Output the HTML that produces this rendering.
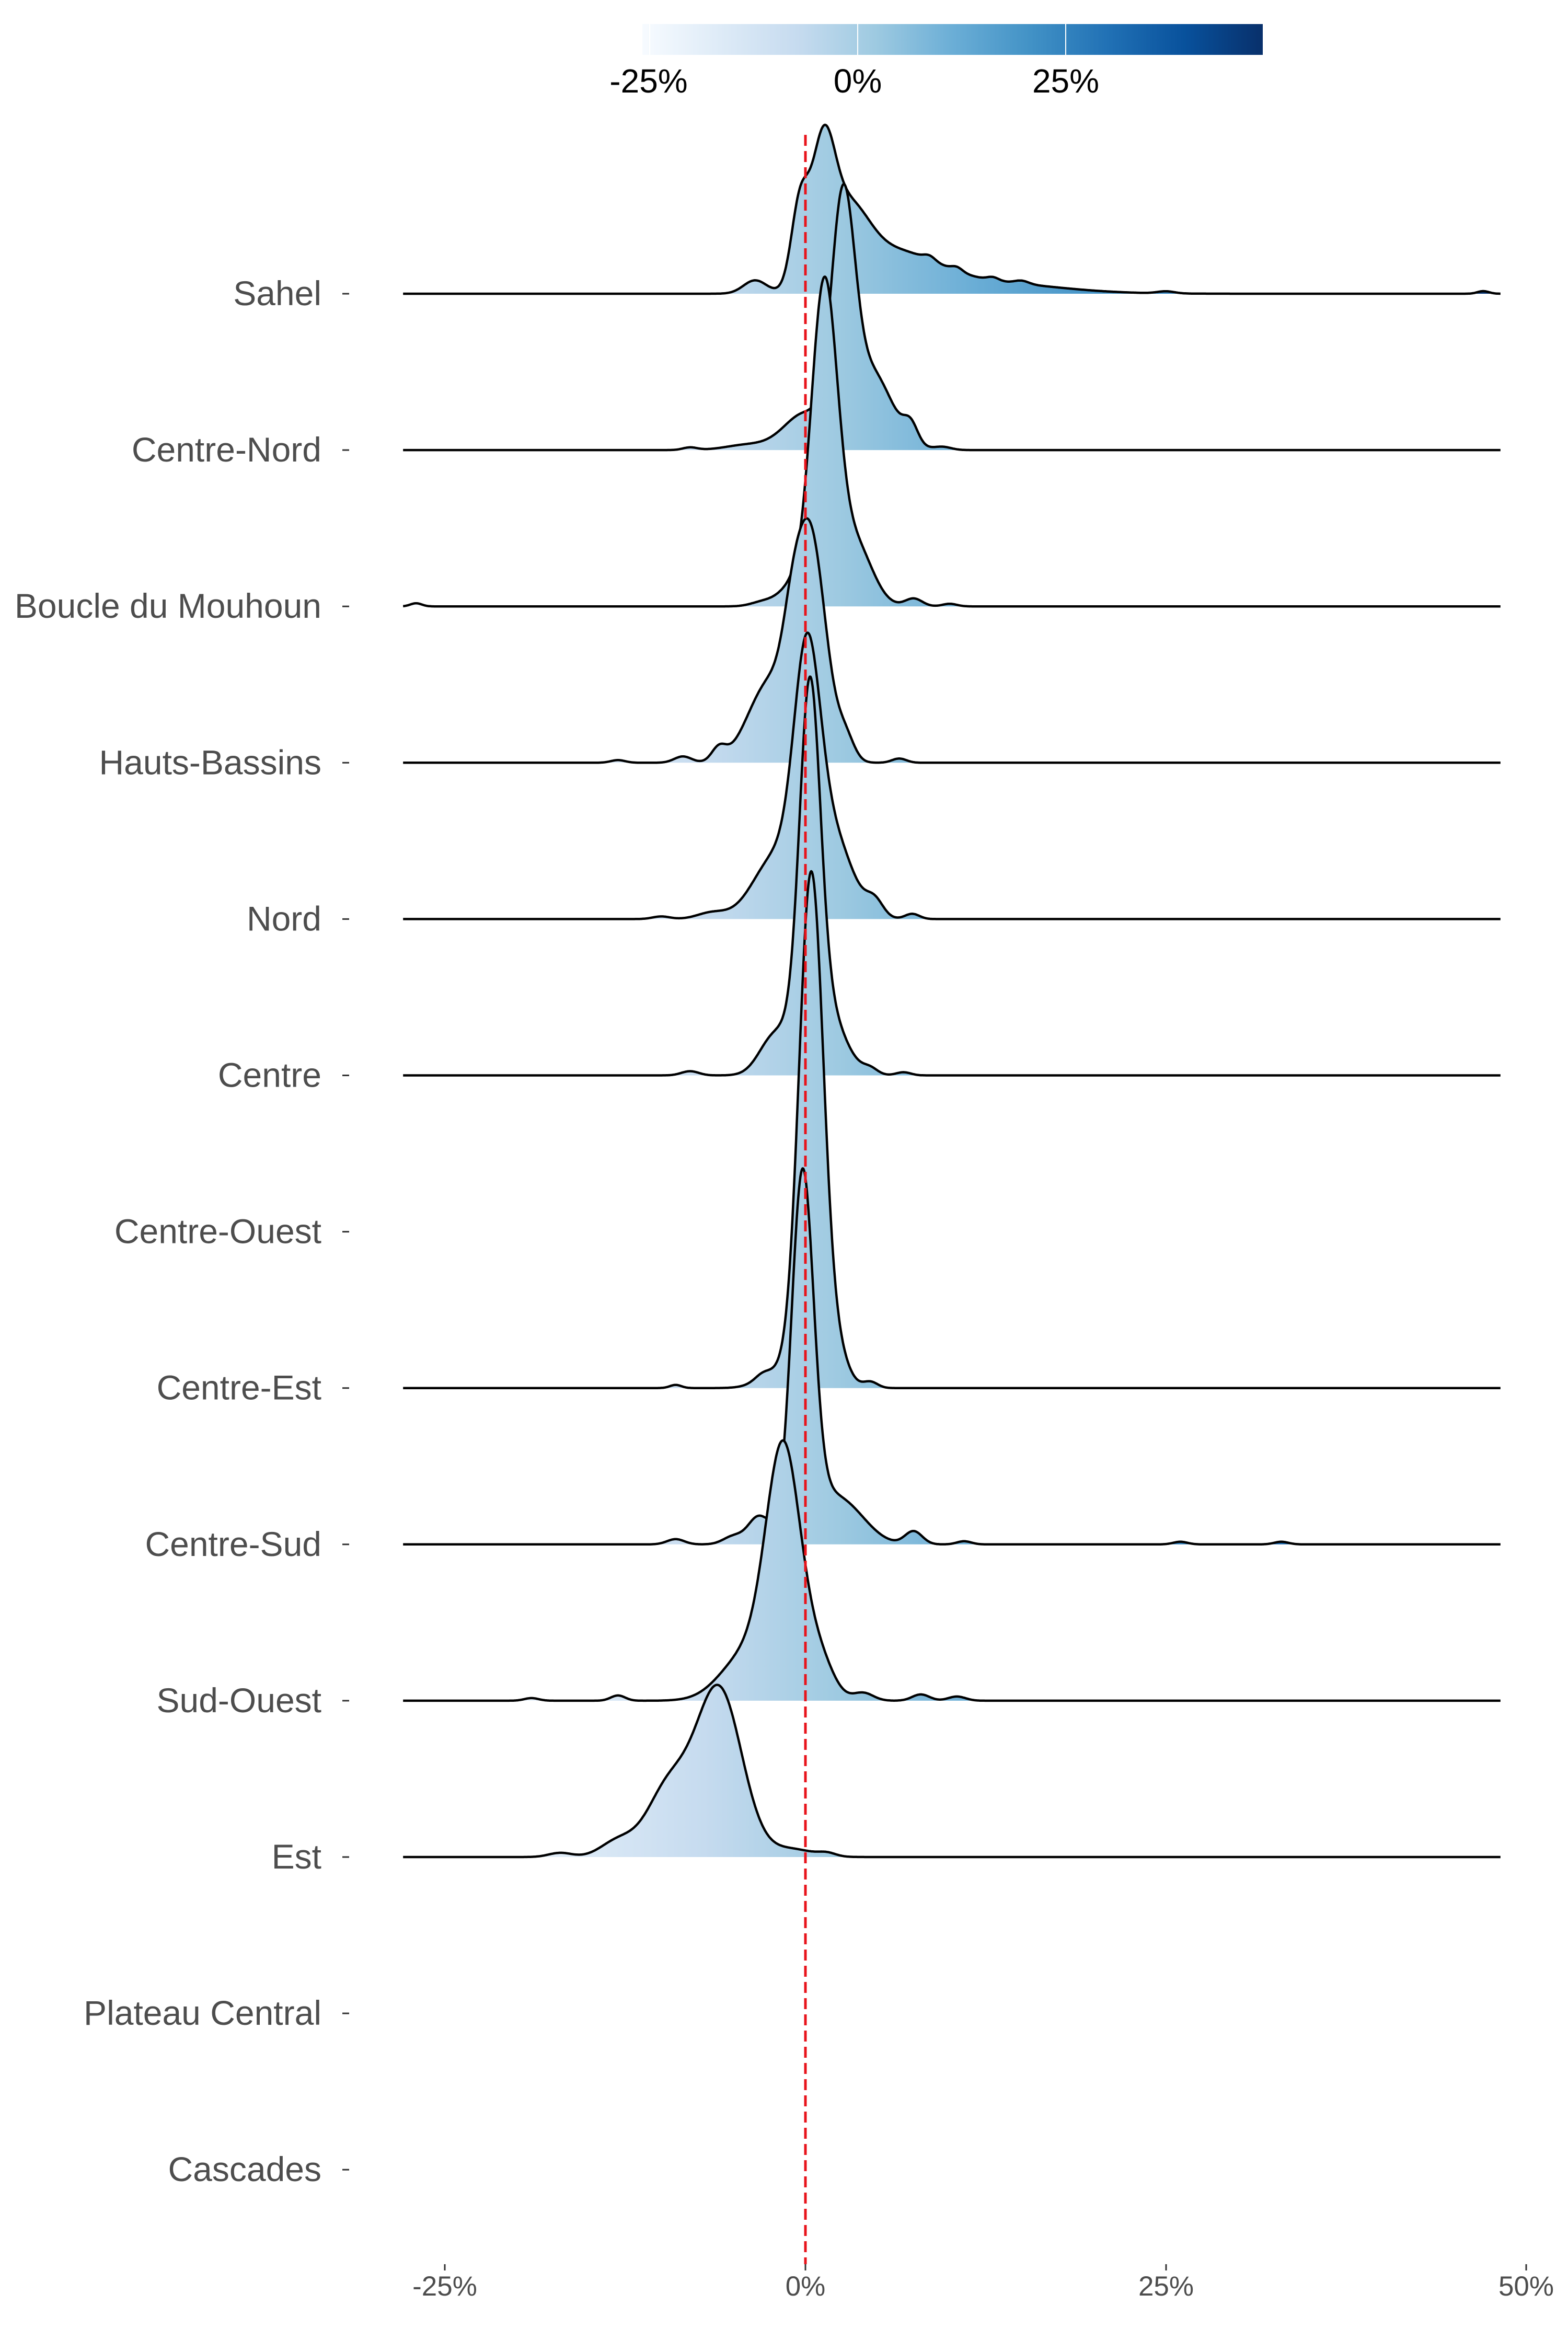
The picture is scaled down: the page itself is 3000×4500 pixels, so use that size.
<!DOCTYPE html>
<html><head><meta charset="utf-8"><style>
html,body{margin:0;padding:0;background:#fff}
svg{display:block}
text{font-family:"Liberation Sans",Arial,sans-serif}
</style></head><body>
<svg id="s" width="3000" height="4500" viewBox="0 0 3000 4500" xmlns="http://www.w3.org/2000/svg">
<defs>
<linearGradient id="g" gradientUnits="userSpaceOnUse" x1="834" y1="0" x2="2885" y2="0">
<stop offset="0" stop-color="#f7fbff"/><stop offset="0.125" stop-color="#deebf7"/><stop offset="0.25" stop-color="#c6dbef"/><stop offset="0.375" stop-color="#9ecae1"/><stop offset="0.5" stop-color="#6baed6"/><stop offset="0.625" stop-color="#4292c6"/><stop offset="0.75" stop-color="#2171b5"/><stop offset="0.875" stop-color="#08519c"/><stop offset="1" stop-color="#08306b"/>
</linearGradient>
<linearGradient id="cb" x1="0" y1="0" x2="1" y2="0">
<stop offset="0" stop-color="#f7fbff"/><stop offset="0.125" stop-color="#deebf7"/><stop offset="0.25" stop-color="#c6dbef"/><stop offset="0.375" stop-color="#9ecae1"/><stop offset="0.5" stop-color="#6baed6"/><stop offset="0.625" stop-color="#4292c6"/><stop offset="0.75" stop-color="#2171b5"/><stop offset="0.875" stop-color="#08519c"/><stop offset="1" stop-color="#08306b"/>
</linearGradient>
</defs>
<rect x="1229" y="46" width="1187" height="59" fill="url(#cb)"/>
<line x1="1243" y1="46" x2="1243" y2="105" stroke="#fff" stroke-width="2"/>
<line x1="1641" y1="46" x2="1641" y2="105" stroke="#fff" stroke-width="2"/>
<line x1="2039" y1="46" x2="2039" y2="105" stroke="#fff" stroke-width="2"/>
<text x="1241" y="177" font-size="64" text-anchor="middle" fill="#000">-25%</text>
<text x="1641" y="177" font-size="64" text-anchor="middle" fill="#000">0%</text>
<text x="2039" y="177" font-size="64" text-anchor="middle" fill="#000">25%</text>
<g id="labels" font-size="66" fill="#4d4d4d" text-anchor="end"></g>
<g id="ridges"></g>
<line x1="1541" y1="258" x2="1541" y2="4332" stroke="#e8141c" stroke-width="5" stroke-dasharray="21,10"/>
<g stroke="#333" stroke-width="3">
<line x1="851" y1="4332" x2="851" y2="4344"/><line x1="1541" y1="4332" x2="1541" y2="4344"/><line x1="2231" y1="4332" x2="2231" y2="4344"/><line x1="2920" y1="4332" x2="2920" y2="4344"/>
</g>
<g font-size="53" fill="#4d4d4d" text-anchor="middle">
<text x="851" y="4392">-25%</text><text x="1541" y="4392">0%</text><text x="2231" y="4392">25%</text><text x="2920" y="4392">50%</text>
</g>
</svg>
<script>
var NS="http://www.w3.org/2000/svg";
var X0=1541,S=27.59;
var names=["Sahel","Centre-Nord","Boucle du Mouhoun","Hauts-Bassins","Nord","Centre","Centre-Ouest","Centre-Est","Centre-Sud","Sud-Ouest","Est","Plateau Central","Cascades"];
function base(i){return 562+299.1*i;}
var lab=document.getElementById("labels");
names.forEach(function(n,i){
 var t=document.createElementNS(NS,"text");t.setAttribute("x",615);t.setAttribute("y",base(i)+22);t.textContent=n;lab.appendChild(t);
 var l=document.createElementNS(NS,"line");l.setAttribute("x1",655);l.setAttribute("x2",668);l.setAttribute("y1",base(i));l.setAttribute("y2",base(i));l.setAttribute("stroke","#333");l.setAttribute("stroke-width",3);lab.appendChild(l);
});
var R={
0:[[-0.4,0.6,150],[1.2,0.8,220],[2.8,1.5,130],[6,3,70],[12,5,22],[-3.5,0.8,25],[8.6,0.4,8],[10.5,0.4,8],[13,0.4,6],[15,0.5,6],[25,0.6,4],[47,0.4,5]],
1:[[2.6,0.8,425],[4.5,1.5,150],[0,1.5,70],[7.3,0.5,35],[-4,1.5,10],[-8,0.5,5],[9.5,0.6,6]],
2:[[1.3,0.9,600],[3.4,1.2,120],[-0.8,1,40],[7.5,0.6,15],[-3,0.8,8],[-27,0.4,6],[10,0.5,5]],
3:[[0.3,1.1,430],[-2.5,1.5,150],[-1,0.6,60],[2.8,0.6,40],[-6,0.5,25],[-8.5,0.6,12],[6.5,0.5,8],[-13,0.5,5]],
4:[[0.1,0.9,420],[1.8,1.4,160],[-2,1.6,120],[4.8,0.6,30],[-6.5,1,12],[7.4,0.5,10],[-10,0.6,5]],
5:[[0.3,0.7,600],[0.8,1.5,170],[-2.3,1.0,60],[4.5,0.5,10],[-8,0.6,8],[6.8,0.5,6]],
7:[[0.4,0.85,980],[2.2,0.8,60],[-2,1.2,30],[4.5,0.5,12],[-9,0.4,6],[-3,0.5,8]],
8:[[-0.2,0.75,640],[0.5,1.8,80],[-3.3,0.7,45],[7.5,0.6,25],[3,1.5,50],[-5,0.7,15],[-9,0.6,10],[11,0.5,6],[26,0.5,5],[33,0.5,5]],
9:[[-1.5,1.2,460],[-4,1.8,90],[1,1,70],[-13,0.5,10],[8,0.6,12],[10.5,0.6,8],[4,0.7,15],[-19,0.5,5]],
10:[[-6,1.6,320],[-9.5,1.5,130],[-13,1.2,30],[-1,1.5,15],[-17,0.8,8],[1.5,0.6,6]]
};
var g=document.getElementById("ridges");
Object.keys(R).map(Number).sort(function(a,b){return a-b}).forEach(function(i){
 var b=base(i),c=R[i],pts=[];
 for(var p=-27.9;p<=48.21;p+=0.05){var h=0;c.forEach(function(k){var z=(p-k[0])/k[1];h+=k[2]*Math.exp(-0.5*z*z);});
  pts.push((X0+p*S).toFixed(1)+","+(b-h).toFixed(1));}
 var d="M"+pts.join("L");
 var f=document.createElementNS(NS,"path");f.setAttribute("d",d+"L"+(X0+48.2*S).toFixed(1)+","+b+"L"+(X0-27.9*S).toFixed(1)+","+b+"Z");f.setAttribute("fill","url(#g)");g.appendChild(f);
 var s=document.createElementNS(NS,"path");s.setAttribute("d",d);s.setAttribute("fill","none");s.setAttribute("stroke","#000");s.setAttribute("stroke-width","4.5");s.setAttribute("stroke-linejoin","round");g.appendChild(s);
});
</script>
</body></html>
